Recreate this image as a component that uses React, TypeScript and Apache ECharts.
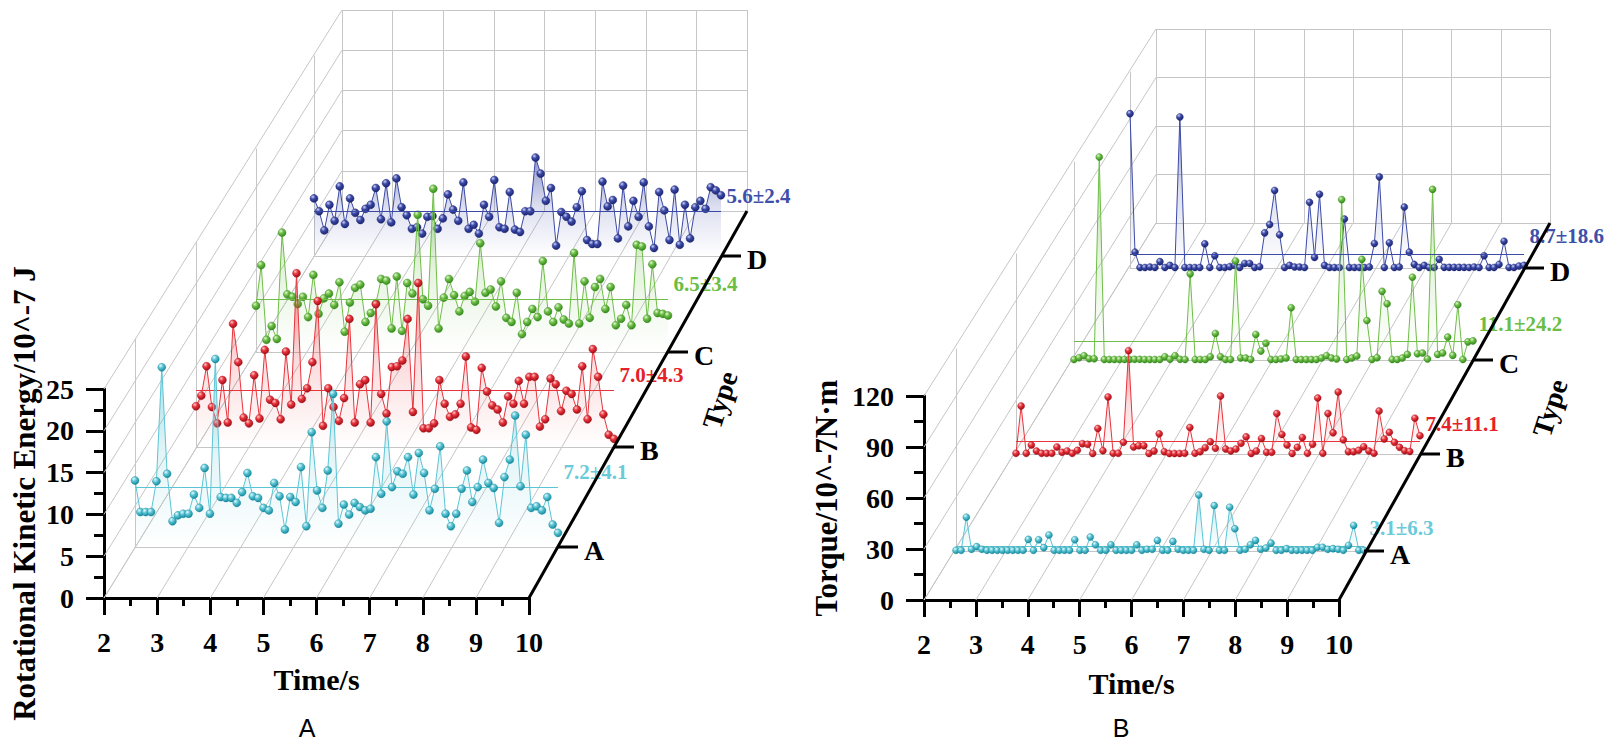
import React, { useEffect, useRef } from "react";
import * as echarts from "echarts";

// ---------- data ----------
const TYPES = ["A", "B", "C", "D"];
const X_MIN = 2;
const X_MAX = 10;
const X_STEP = 1;

// Panel A : rotational kinetic energy (10^-7 J)
const KE_A = [
  8.0, 4.2, 4.2, 4.2, 7.9, 21.6, 8.8, 3.1, 3.8, 4.0,
  4.0, 6.3, 4.7, 9.5, 4.0, 22.6, 6.0, 5.9, 5.9, 5.3,
  6.6, 8.9, 6.1, 5.9, 4.7, 4.4, 7.7, 6.1, 2.1, 6.0,
  5.4, 9.6, 2.5, 13.8, 6.8, 4.7, 9.2, 18.4, 2.8, 5.1,
  3.9, 5.3, 4.8, 4.4, 4.6, 10.8, 6.4, 15.1, 7.2, 9.1,
  8.8, 10.8, 6.3, 11.3, 8.9, 4.4, 7.0, 12.1, 4.0, 2.5,
  4.0, 7.0, 9.2, 5.4, 7.2, 10.5, 7.7, 7.1, 2.9, 8.4,
  10.5, 15.8, 7.3, 13.5, 4.7, 4.9, 4.4, 6.0, 2.7, 1.7,
];
const KE_B = [
  5.0, 6.3, 9.9, 4.9, 2.9, 8.2, 3.0, 15.1, 10.4, 3.6,
  2.9, 8.8, 3.5, 11.9, 5.8, 5.4, 3.4, 11.7, 5.2, 21.3,
  5.9, 7.2, 10.4, 17.9, 2.6, 7.2, 4.9, 3.2, 6.0, 15.7,
  3.0, 7.7, 8.2, 3.0, 17.5, 6.5, 4.1, 9.8, 9.9, 10.6,
  15.7, 4.3, 20.1, 2.3, 2.3, 2.9, 8.2, 5.3, 3.7, 4.0,
  5.3, 11.1, 2.4, 2.1, 9.7, 6.8, 5.1, 4.6, 3.0, 6.2,
  5.3, 8.1, 5.3, 8.6, 8.6, 2.5, 3.4, 8.4, 7.7, 4.4,
  6.9, 6.5, 4.6, 9.9, 3.4, 12.0, 8.6, 4.0, 1.5, 1.0,
];
const KE_C = [
  5.7, 10.7, 1.5, 3.2, 1.6, 14.7, 7.1, 6.8, 5.9, 6.8,
  4.3, 9.5, 4.7, 6.6, 7.2, 5.8, 8.6, 2.5, 6.1, 7.9,
  8.3, 3.7, 4.8, 6.0, 9.0, 8.8, 2.9, 9.3, 2.6, 8.5,
  7.2, 16.9, 6.5, 5.7, 20.1, 2.9, 6.7, 9.0, 7.0, 5.0,
  6.9, 7.4, 6.2, 13.4, 7.3, 7.7, 5.6, 8.7, 4.2, 3.7,
  7.3, 2.2, 3.7, 5.3, 4.3, 11.2, 5.0, 3.7, 5.5, 4.0,
  3.5, 12.2, 3.5, 8.7, 4.2, 8.0, 9.0, 5.3, 8.0, 3.3,
  4.1, 5.8, 3.3, 13.2, 13.0, 4.1, 10.8, 4.8, 4.7, 4.5,
];
const KE_D = [
  7.2, 5.6, 3.2, 6.4, 4.4, 8.7, 4.0, 7.2, 5.4, 4.5,
  5.9, 6.4, 8.5, 4.6, 9.1, 4.2, 9.7, 6.1, 5.1, 3.4,
  3.6, 2.8, 4.9, 5.0, 3.4, 4.7, 7.7, 5.8, 4.4, 9.2,
  3.4, 3.9, 2.8, 6.4, 4.9, 9.5, 3.6, 3.4, 8.0, 3.3,
  3.0, 5.6, 5.6, 12.3, 10.3, 6.9, 8.5, 1.3, 5.5, 4.9,
  4.3, 6.1, 8.1, 2.0, 1.5, 1.5, 9.3, 6.2, 7.0, 2.2,
  8.8, 3.7, 6.9, 4.9, 9.2, 3.7, 1.0, 8.0, 5.7, 2.0,
  8.3, 1.4, 6.4, 2.2, 6.1, 6.9, 5.9, 8.6, 8.2, 7.6,
];
const KE_MEANS = [7.2, 7.0, 6.5, 5.6];
const KE_LABELS = ["7.2±4.1", "7.0±4.3", "6.5±3.4", "5.6±2.4"];

// Panel B : torque (10^-7 N·m)
const TQ_A = [
  0.4, 0.4, 20.1, 1.0, 2.6, 1.0, 0.4, 0.4, 0.4, 0.4,
  0.4, 0.4, 0.4, 0.4, 6.9, 0.4, 6.7, 2.0, 9.5, 0.4,
  0.4, 0.4, 0.4, 6.7, 0.4, 0.4, 8.3, 3.7, 0.4, 0.4,
  3.7, 0.4, 0.4, 0.4, 0.4, 3.7, 0.4, 1.0, 1.0, 6.3,
  0.4, 0.4, 5.7, 1.0, 0.4, 0.4, 0.4, 33.3, 1.0, 0.4,
  27.0, 0.4, 0.4, 26.0, 13.2, 0.4, 1.0, 3.7, 6.3, 1.0,
  1.8, 4.7, 0.4, 0.4, 1.4, 0.4, 0.4, 0.4, 0.4, 0.4,
  2.2, 2.2, 1.0, 1.4, 1.0, 0.4, 3.3, 15.2, 0.4, 0.4,
];
const TQ_B = [
  0.4, 28.8, 0.4, 5.4, 1.8, 0.4, 0.4, 0.4, 4.2, 1.0,
  1.8, 0.4, 2.2, 6.2, 5.8, 0.3, 15.3, 2.0, 34.2, 0.4,
  0.4, 7.0, 62.0, 4.2, 5.0, 5.0, 0.3, 1.8, 12.1, 1.4,
  0.3, 0.3, 0.3, 0.4, 15.9, 0.4, 1.4, 3.8, 7.4, 3.4,
  34.8, 3.0, 1.8, 3.0, 6.4, 10.3, 0.3, 1.8, 9.3, 1.0,
  1.0, 24.3, 11.7, 5.4, 0.3, 4.0, 9.9, 0.4, 5.8, 33.6,
  0.4, 24.3, 12.7, 37.2, 8.5, 1.4, 1.4, 2.2, 4.4, 1.8,
  0.4, 25.8, 9.0, 13.0, 7.0, 4.0, 2.0, 1.5, 21.5, 11.0,
];
const TQ_C = [
  0.3, 1.4, 2.6, 0.8, 0.8, 123.0, 0.3, 0.3, 0.3, 0.3,
  0.3, 0.3, 0.4, 0.4, 0.3, 0.3, 0.3, 0.3, 2.0, 0.4,
  2.6, 0.4, 0.3, 52.2, 0.3, 0.3, 0.3, 2.0, 16.1, 2.0,
  0.3, 0.3, 60.0, 1.2, 1.2, 0.3, 15.5, 5.4, 10.2, 0.3,
  0.3, 0.6, 1.2, 31.7, 0.3, 0.3, 0.3, 0.3, 0.3, 1.2,
  2.6, 1.2, 0.6, 97.2, 0.3, 1.2, 2.4, 61.0, 23.9, 0.3,
  1.4, 41.6, 34.1, 0.3, 0.3, 1.2, 3.4, 50.2, 3.8, 4.2,
  0.6, 103.4, 3.4, 4.2, 13.9, 2.8, 33.5, 0.3, 11.0, 11.6,
];
const TQ_D = [
  94.5, 9.7, 0.3, 0.3, 0.6, 0.3, 3.9, 0.3, 1.6, 0.3,
  92.5, 0.3, 0.3, 0.3, 0.3, 14.8, 0.3, 7.5, 0.3, 0.3,
  0.8, 1.6, 0.3, 2.8, 2.8, 0.3, 0.8, 21.5, 26.6, 47.5,
  20.3, 0.3, 1.6, 0.6, 0.6, 0.3, 40.2, 6.5, 45.2, 1.6,
  0.3, 0.3, 0.3, 30.0, 0.3, 0.3, 0.3, 0.3, 0.6, 15.0,
  55.8, 0.3, 15.4, 0.3, 0.6, 37.3, 9.7, 2.2, 0.3, 1.6,
  0.3, 0.3, 5.3, 0.4, 0.4, 0.4, 0.4, 0.4, 0.3, 0.6,
  0.3, 7.5, 0.3, 0.3, 2.2, 16.4, 0.3, 0.3, 1.2, 1.6,
];
const TQ_MEANS = [3.1, 7.4, 11.1, 8.7];
const TQ_LABELS = ["3.1±6.3", "7.4±11.1", "11.1±24.2", "8.7±18.6"];

// ---------- styles & layout ----------
const SERIF = '"Liberation Serif", "Times New Roman", Times, serif';
const SANS = '"Liberation Sans", Arial, sans-serif';
const GRAY = "#c6c6c6";
const COLORS = [
  { line: "#5CC5D5", dark: "#0F8598", light: "#E6FBFE", text: "#6BCAD9" },
  { line: "#E8343C", dark: "#9E0A14", light: "#FFC8CB", text: "#E52129" },
  { line: "#6FBE48", dark: "#2F8618", light: "#E2F8D0", text: "#6BBD44" },
  { line: "#3C4AA6", dark: "#18226E", light: "#CAD0F8", text: "#3E50A9" },
];

// [left, right, floorY, height]
const PANELS = [
  {
    data: [KE_A, KE_B, KE_C, KE_D],
    means: KE_MEANS,
    labels: KE_LABELS,
    labelLift: -15,
    yMax: 25,
    yStep: 5,
    yName: "Rotational Kinetic Energy/10^-7 J",
    yNameGap: 64,
    yNameSize: 31,
    xNameGap: 66,
    symbolSize: 8,
    front: [104, 529, 598, 209],
    planes: [
      [135, 558, 547, 208],
      [196, 614, 447, 204],
      [256, 668, 352, 203],
      [314, 721, 256, 200],
    ],
    back: [342, 747, 211, 201],
    typePos: [720, 400],
    caption: "A",
    captionPos: [307, 728],
  },
  {
    data: [TQ_A, TQ_B, TQ_C, TQ_D],
    means: TQ_MEANS,
    labels: TQ_LABELS,
    labelLift: -18,
    yMax: 120,
    yStep: 30,
    yName: "Torque/10^-7N·m",
    yNameGap: 82,
    yNameSize: 31,
    xNameGap: 68,
    symbolSize: 7,
    front: [924, 1339, 600, 204],
    planes: [
      [956, 1364, 551, 202],
      [1016, 1420, 454, 200],
      [1074, 1473, 360, 198],
      [1130, 1524, 268, 196],
    ],
    back: [1156, 1550, 223, 194],
    typePos: [1550, 408],
    caption: "B",
    captionPos: [1121, 728],
  },
];

function rgba(hex: string, a: number) {
  const n = parseInt(hex.slice(1), 16);
  return `rgba(${(n >> 16) & 255},${(n >> 8) & 255},${n & 255},${a})`;
}

function box(b: number[]) {
  const [l, r, f, h] = b;
  return { left: l, top: f - h, width: r - l, height: h, containLabel: false, outerBoundsMode: "none" };
}

const boldText = (size: number) => ({
  fontSize: size,
  fontWeight: "bold",
  fontFamily: SERIF,
  color: "#000",
});

function buildOption() {
  const grid: any[] = [];
  const xAxis: any[] = [];
  const yAxis: any[] = [];
  const series: any[] = [];

  PANELS.forEach((P) => {
    const base = grid.length;
    // front face with visible axes
    grid.push(box(P.front));
    xAxis.push({
      gridIndex: base,
      type: "value",
      min: X_MIN,
      max: X_MAX,
      interval: X_STEP,
      axisLine: { show: true, onZero: false, lineStyle: { color: "#000", width: 3 } },
      axisTick: { show: true, inside: false, length: 17, lineStyle: { color: "#000", width: 3 } },
      minorTick: { show: true, splitNumber: 2, length: 8, lineStyle: { color: "#000", width: 3 } },
      axisLabel: { show: true, margin: 30, showMinLabel: true, showMaxLabel: true, ...boldText(28) },
      splitLine: { show: false },
      name: "Time/s",
      nameLocation: "middle",
      nameGap: P.xNameGap,
      nameTextStyle: boldText(30),
    });
    yAxis.push({
      gridIndex: base,
      type: "value",
      min: 0,
      max: P.yMax,
      interval: P.yStep,
      axisLine: { show: true, onZero: false, lineStyle: { color: "#000", width: 3 } },
      axisTick: { show: true, inside: false, length: 18, lineStyle: { color: "#000", width: 3 } },
      minorTick: { show: true, splitNumber: 2, length: 10, lineStyle: { color: "#000", width: 3 } },
      axisLabel: { show: true, margin: 30, showMinLabel: true, showMaxLabel: true, ...boldText(28) },
      splitLine: { show: false },
      name: P.yName,
      nameLocation: "middle",
      nameRotate: 90,
      nameGap: P.yNameGap,
      nameTextStyle: boldText(P.yNameSize),
    });

    // planes A..D
    P.planes.forEach((pl, k) => {
      const gi = grid.length;
      grid.push(box(pl));
      xAxis.push({
        gridIndex: gi,
        type: "category",
        boundaryGap: false,
        data: P.data[k].map((_, i) => String(i)),
        axisLine: { show: true, onZero: false, lineStyle: { color: GRAY, width: 1 } },
        axisTick: { show: false },
        axisLabel: { show: false },
        splitLine: { show: false },
      });
      yAxis.push({
        gridIndex: gi,
        type: "value",
        min: 0,
        max: P.yMax,
        axisLine: { show: true, onZero: false, lineStyle: { color: GRAY, width: 1 } },
        axisTick: { show: false },
        axisLabel: { show: false },
        splitLine: { show: false },
      });
    });

    // back wall
    const bi = grid.length;
    grid.push(box(P.back));
    xAxis.push({
      gridIndex: bi,
      type: "value",
      min: X_MIN,
      max: X_MAX,
      interval: X_STEP,
      axisLine: { show: false },
      axisTick: { show: false },
      axisLabel: { show: false },
      splitLine: { show: true, showMinLine: true, showMaxLine: true, lineStyle: { color: GRAY, width: 1 } },
    });
    yAxis.push({
      gridIndex: bi,
      type: "value",
      min: 0,
      max: P.yMax,
      interval: P.yStep,
      axisLine: { show: false },
      axisTick: { show: false },
      axisLabel: { show: false },
      splitLine: { show: true, showMinLine: true, showMaxLine: true, lineStyle: { color: GRAY, width: 1 } },
    });

    // series, back (D) first so the front ones are on top
    for (let k = 3; k >= 0; k--) {
      const gi = base + 1 + k;
      const c = COLORS[k];
      const values = P.data[k];
      series.push({
        type: "line",
        name: `${P.caption}-${TYPES[k]}`,
        xAxisIndex: gi,
        yAxisIndex: gi,
        data: values,
        clip: false,
        z: 3 + (3 - k),
        symbol: "circle",
        symbolSize: P.symbolSize,
        showSymbol: true,
        showAllSymbol: true,
        lineStyle: { color: c.line, width: 1 },
        itemStyle: {
          color: new echarts.graphic.RadialGradient(0.35, 0.3, 0.75, [
            { offset: 0, color: c.light },
            { offset: 0.4, color: c.line },
            { offset: 1, color: c.dark },
          ]),
          borderColor: c.dark,
          borderWidth: 0.4,
        },
        areaStyle: {
          color: new echarts.graphic.LinearGradient(0, 0, 0, 1, [
            { offset: 0, color: rgba(c.line, 0.8) },
            { offset: 0.5, color: rgba(c.line, 0.25) },
            { offset: 1, color: rgba(c.line, 0.0) },
          ]),
        },
        emphasis: { disabled: true },
        silent: true,
        markLine: {
          silent: true,
          animation: false,
          symbol: ["none", "none"],
          label: { show: false },
          lineStyle: { color: c.line, width: 1, type: "solid" },
          data: [{ yAxis: P.means[k] }],
        },
        markPoint: {
          silent: true,
          animation: false,
          symbol: "circle",
          symbolSize: 1,
          itemStyle: { color: "rgba(0,0,0,0)" },
          label: {
            show: true,
            position: "right",
            distance: 5,
            offset: [0, P.labelLift],
            formatter: P.labels[k],
            fontSize: 21,
            fontWeight: "bold",
            fontFamily: SERIF,
            color: c.text,
          },
          data: [{ coord: [values.length - 1, P.means[k]] }],
        },
      });
    }
  });

  return {
    animation: false,
    backgroundColor: "#fff",
    grid,
    xAxis,
    yAxis,
    series,
  };
}

function buildGraphics(chart: any) {
  const els: any[] = [];
  const px = (gi: number, pt: number[]) => chart.convertToPixel({ gridIndex: gi }, pt) as number[];
  const seg = (a: number[], b: number[], stroke: string, w: number, z: number) => ({
    type: "line",
    silent: true,
    z,
    shape: { x1: a[0], y1: a[1], x2: b[0], y2: b[1] },
    style: { stroke, lineWidth: w },
  });

  PANELS.forEach((P, p) => {
    const front = p * 6;
    const back = front + 5;
    // floor lines running from the front axis to the back wall
    for (let t = X_MIN; t < X_MAX; t += X_STEP) {
      els.push(seg(px(front, [t, 0]), px(back, [t, 0]), GRAY, 1, 1));
    }
    // left wall lines
    for (let v = 0; v <= P.yMax; v += P.yStep) {
      els.push(seg(px(front, [X_MIN, v]), px(back, [X_MIN, v]), GRAY, 1, 1));
    }
    // depth (Type) axis
    els.push(seg(px(front, [X_MAX, 0]), px(back, [X_MAX, 0]), "#000", 3, 10));
    P.planes.forEach((_, k) => {
      const corner = px(front + 1 + k, [P.data[k].length - 1, 0]);
      els.push(seg(corner, [corner[0] + 20, corner[1]], "#000", 3, 10));
      els.push({
        type: "text",
        silent: true,
        z: 10,
        x: corner[0] + 26,
        y: corner[1] + 3,
        style: {
          text: TYPES[k],
          fill: "#000",
          fontSize: 28,
          fontWeight: "bold",
          fontFamily: SERIF,
          align: "left",
          verticalAlign: "middle",
        },
      });
    });
    els.push({
      type: "text",
      silent: true,
      z: 10,
      x: P.typePos[0],
      y: P.typePos[1],
      rotation: Math.PI * 0.4,
      style: {
        text: "Type",
        fill: "#000",
        fontSize: 28,
        fontWeight: "bold",
        fontFamily: SERIF,
        align: "center",
        verticalAlign: "middle",
      },
    });
    els.push({
      type: "text",
      silent: true,
      z: 10,
      x: P.captionPos[0],
      y: P.captionPos[1],
      style: {
        text: P.caption,
        fill: "#000",
        fontSize: 25,
        fontFamily: SANS,
        align: "center",
        verticalAlign: "middle",
      },
    });
  });
  return els;
}

export default function App() {
  const ref = useRef<HTMLDivElement>(null);
  useEffect(() => {
    if (!ref.current) return;
    const chart = echarts.init(ref.current, null, { renderer: "svg" });
    chart.setOption(buildOption());
    chart.setOption({ graphic: buildGraphics(chart) });
    return () => chart.dispose();
  }, []);
  return (
    <div
      ref={ref}
      style={{ position: "fixed", left: 0, top: 0, width: 1612, height: 745, background: "#fff" }}
    />
  );
}
